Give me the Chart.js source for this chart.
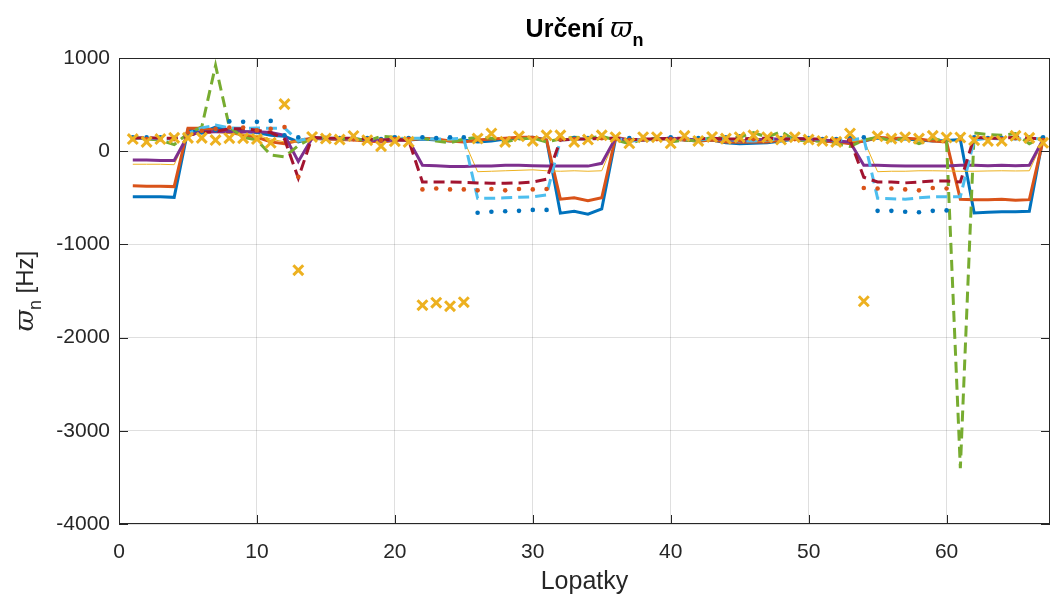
<!DOCTYPE html>
<html>
<head>
<meta charset="utf-8">
<script src="https://cdn.jsdelivr.net/npm/chart.js@4.4.1/dist/chart.umd.min.js"></script>
<style>
  html, body { margin: 0; padding: 0; background: #fff; }
  #wrap { width: 1052px; height: 594px; }
</style>
</head>
<body>
<div id="wrap"><canvas id="chart" width="1052" height="594"></canvas></div>
<script>
// blade numbers (x axis)
const blades = [1, 2, 3, 4, 5, 6, 7, 8, 9, 10, 11, 12, 13, 14, 15, 16, 17, 18, 19, 20,
  21, 22, 23, 24, 25, 26, 27, 28, 29, 30, 31, 32, 33, 34, 35, 36, 37, 38, 39, 40,
  41, 42, 43, 44, 45, 46, 47, 48, 49, 50, 51, 52, 53, 54, 55, 56, 57, 58, 59, 60,
  61, 62, 63, 64, 65, 66, 67];

const xTicks = [0, 10, 20, 30, 40, 50, 60];
const yTicks = [1000, 0, -1000, -2000, -3000, -4000];

// omega_n per blade [Hz], one array per evaluation
const omega1 = [-490, -490, -490, -495, 230, 200, 260, 220, 210, 200,
  170, 160, 100, 140, 130, 140, 130, 120, 110, 120,
  120, 130, 120, 110, 120, 100, 110, 130, 140, 150,
  120, -665, -645, -676, -620, 130, 110, 120, 130, 140,
  120, 110, 120, 90, 80, 85, 90, 110, 130, 120,
  110, 100, 90, 110, 140, 130, 130, 120, 110, 115,
  125, -662, -655, -650, -650, -645, 150];
const omega2 = [-372, -375, -375, -380, 245, 245, 225, 200, 175, 150,
  100, 80, 115, 140, 130, 125, 120, 110, 100, 115,
  120, 140, 130, 110, 100, 120, 130, 140, 150, 150,
  120, -515, -500, -530, -500, 150, 120, 120, 130, 130,
  120, 110, 120, 100, 95, 100, 100, 120, 130, 120,
  110, 100, 80, 110, 150, 140, 140, 130, 110, 100,
  -515, -520, -520, -515, -525, -520, 118];
const omega3 = [-140, -140, -140, -145, 180, 200, 200, 190, 180, 170,
  130, 100, 100, 130, 130, 120, 120, 110, 100, 110,
  120, 130, 120, 110, 120, -220, -215, -210, -205, -200,
  -210, -215, -210, -215, -210, 140, 120, 120, 130, 130,
  120, 110, 120, 110, 100, 110, 110, 120, 130, 120,
  110, 100, 100, 120, -220, -215, -215, -210, -210, -212,
  -215, -215, -212, -210, -212, -210, 110];
const omega4 = [-95, -95, -100, -100, 170, 205, 210, 210, 210, 210,
  200, 170, -110, 140, 140, 130, 130, 120, 110, 120,
  120, -150, -155, -165, -165, -160, -160, -150, -150, -155,
  -160, -160, -160, -160, -130, 140, 120, 120, 130, 140,
  130, 120, 130, 120, 110, 120, 130, 130, 140, 130,
  120, 110, 100, -150, -150, -155, -160, -160, -160, -160,
  -150, -150, -155, -150, -155, -150, 125];
const omega5 = [150, 130, 120, 70, 190, 260, 920, 260, 150, 120,
  -40, -60, 60, 140, 150, 130, 140, 110, 160, 150,
  130, 140, 110, 90, 130, 150, 140, 100, 130, 140,
  100, 130, 150, 140, 160, 120, 80, 130, 140, 100,
  120, 110, 150, 140, 150, 200, 150, 210, 120, 110,
  110, 80, 50, 120, 150, 110, 140, 80, 140, 100,
  -3400, 195, 180, 170, 190, 80, 150];
const omega6 = [140, 140, 130, 130, 190, 250, 280, 250, 245, 250,
  245, 250, 110, 150, 140, 140, 130, 130, 120, 130,
  140, 140, 130, 130, 140, -505, -505, -500, -495, -490,
  -470, 120, 130, 130, 140, 140, 110, 120, 130, 140,
  130, 120, 140, 130, 110, 110, 120, 130, 130, 120,
  130, 120, 120, 140, -505, -510, -515, -500, -490, -490,
  -490, 120, 140, 130, 130, 140, 130];
const omega7 = [140, 145, 140, 140, 170, 200, 210, 243, 240, 225,
  200, 130, -290, 150, 140, 140, 140, 130, 120, 130,
  118, -330, -330, -330, -335, -340, -345, -345, -340, -330,
  -300, 120, 130, 130, 140, 140, 120, 130, 130, 140,
  140, 130, 140, 130, 130, 140, 140, 130, 130, 130,
  130, 120, 120, -280, -330, -330, -340, -330, -320, -320,
  -330, 150, 140, 140, 150, 140, 130];
const omega8 = [150, 150, 150, 145, 180, 200, 225, 320, 315, 315,
  325, 170, 150, 150, 140, 140, 150, 140, 130, 150,
  140, 150, 140, 150, 150, -660, -650, -645, -640, -630,
  -630, 150, 140, 140, 150, 150, 140, 140, 150, 150,
  140, 140, 150, 150, 160, 150, 140, 140, 150, 140,
  130, 130, 140, 150, -640, -640, -650, -655, -640, -635,
  150, 150, 140, 140, 150, 150, 150];
const omega9 = [130, 130, 130, 130, 200, 220, 240, 255, 255, 225,
  240, 260, -275, 140, 140, 130, 130, 130, 120, 130,
  130, -410, -400, -410, -410, -420, -405, -420, -405, -410,
  -405, 130, 130, 130, 140, 130, 120, 130, 130, 130,
  130, 120, 130, 120, 120, 130, 130, 130, 130, 120,
  120, 120, 120, -395, -400, -400, -410, -420, -395, -400,
  130, 130, 130, 130, 140, 130, 120];
const omega10 = [130, 100, 130, 143, 143, 143, 120, 140, 140, 130,
  90, 505, -1277, 153, 136, 125, 163, 118, 54, 107,
  100, -1652, -1625, -1663, -1620, 136, 190, 100, 160, 110,
  170, 170, 100, 125, 170, 150, 85, 150, 150, 85,
  165, 110, 153, 135, 150, 170, 150, 125, 150, 125,
  110, 100, 190, -1610, 160, 135, 150, 135, 165, 147,
  147, 118, 110, 110, 165, 143, 90];

const FONT = '"Liberation Sans", Arial, Helvetica, sans-serif';
const INK = '#262626';

function pts(vals) {
  return blades.map((b, i) => ({ x: b, y: vals[i] }));
}

function lineSet(vals, color, width, dash) {
  return {
    data: pts(vals), borderColor: color, backgroundColor: color,
    borderWidth: width, borderDash: dash || [], pointRadius: 0,
    pointHoverRadius: 0, tension: 0, fill: false
  };
}

function markSet(vals, color, style, radius, width) {
  return {
    data: pts(vals), showLine: false, borderColor: color, backgroundColor: color,
    pointStyle: style, pointRadius: radius, pointBorderWidth: width,
    pointHoverRadius: radius
  };
}

const datasets = [
  lineSet(omega1, '#0072BD', 3),
  lineSet(omega2, '#D95319', 3),
  lineSet(omega3, '#EDB120', 1),
  lineSet(omega4, '#7E2F8E', 3),
  lineSet(omega5, '#77AC30', 3, [11, 6]),
  lineSet(omega6, '#4DBEEE', 3, [11, 6]),
  lineSet(omega7, '#A2142F', 3, [11, 6]),
  markSet(omega8, '#0072BD', 'circle', 2.3, 0),
  markSet(omega9, '#D95319', 'circle', 2.3, 0),
  markSet(omega10, '#EDB120', 'crossRot', 7, 3)
];
// later series are painted on top
datasets.forEach((d, i) => { d.order = datasets.length - i; });

// box, inward ticks, title and axis labels
const axesDecor = {
  id: 'axesDecor',
  afterDraw(chart) {
    const { ctx, chartArea: a, scales: { x, y } } = chart;
    ctx.save();
    ctx.strokeStyle = INK;
    ctx.lineWidth = 1;
    ctx.strokeRect(a.left + 0.5, a.top + 0.5, a.right - a.left - 1, a.bottom - a.top - 1);
    ctx.beginPath();
    const tl = 9;
    xTicks.forEach(v => {
      const px = Math.round(x.getPixelForValue(v)) + 0.5;
      ctx.moveTo(px, a.bottom); ctx.lineTo(px, a.bottom - tl);
      ctx.moveTo(px, a.top); ctx.lineTo(px, a.top + tl);
    });
    yTicks.forEach(v => {
      const py = Math.round(y.getPixelForValue(v)) + 0.5;
      ctx.moveTo(a.left, py); ctx.lineTo(a.left + tl, py);
      ctx.moveTo(a.right, py); ctx.lineTo(a.right - tl, py);
    });
    ctx.stroke();

    ctx.fillStyle = '#000';
    ctx.textBaseline = 'alphabetic';

    // title: Určení ϖ_n
    const cx = (a.left + a.right) / 2;
    const tParts = [
      { t: 'Určení ', f: 'bold 25px ' + FONT, dy: 0 },
      { t: 'ϖ', f: 'italic 27px "DejaVu Serif", serif', dy: 0 },
      { t: 'n', f: 'bold 18px ' + FONT, dy: 9 }
    ];
    let tw = 0;
    tParts.forEach(p => { ctx.font = p.f; p.w = ctx.measureText(p.t).width; tw += p.w; });
    let tx = cx - tw / 2;
    ctx.textAlign = 'left';
    tParts.forEach(p => { ctx.font = p.f; ctx.fillText(p.t, tx, 37 + p.dy); tx += p.w; });

    // x label
    ctx.font = '25px ' + FONT;
    ctx.fillStyle = INK;
    ctx.textAlign = 'center';
    ctx.fillText('Lopatky', cx, 589);

    // y label, rotated: ϖ_n [Hz]
    const cy = (a.top + a.bottom) / 2;
    ctx.translate(33, cy);
    ctx.rotate(-Math.PI / 2);
    const yParts = [
      { t: 'ϖ', f: 'italic 26px "DejaVu Serif", serif', dy: 0 },
      { t: 'n', f: '18px ' + FONT, dy: 8 },
      { t: ' [Hz]', f: '24px ' + FONT, dy: 0 }
    ];
    let yw = 0;
    yParts.forEach(p => { ctx.font = p.f; p.w = ctx.measureText(p.t).width; yw += p.w; });
    let yx = -yw / 2;
    ctx.textAlign = 'left';
    yParts.forEach(p => { ctx.font = p.f; ctx.fillText(p.t, yx, p.dy); yx += p.w; });
    ctx.restore();
  }
};

new Chart(document.getElementById('chart'), {
  type: 'line',
  data: { datasets },
  options: {
    responsive: false,
    animation: false,
    events: [],
    layout: { autoPadding: false, padding: { top: 58, right: 2, left: 0, bottom: 0 } },
    plugins: { legend: { display: false }, title: { display: false }, tooltip: { enabled: false } },
    scales: {
      x: {
        type: 'linear', min: 0, max: 67.5,
        afterBuildTicks: s => { s.ticks = xTicks.map(v => ({ value: v })); },
        afterFit: s => { s.height = 70; },
        border: { display: false },
        grid: { color: 'rgba(38,38,38,0.15)', drawTicks: false },
        ticks: { color: INK, font: { family: FONT, size: 21 }, padding: 16, maxRotation: 0,
          callback: v => String(v) }
      },
      y: {
        type: 'linear', min: -4000, max: 1000,
        afterBuildTicks: s => { s.ticks = yTicks.map(v => ({ value: v })); },
        afterFit: s => { s.width = 119; },
        border: { display: false },
        grid: { color: 'rgba(38,38,38,0.15)', drawTicks: false },
        ticks: { color: INK, font: { family: FONT, size: 21 }, padding: 9,
          callback: v => String(v) }
      }
    }
  },
  plugins: [axesDecor]
});
</script>
</body>
</html>
